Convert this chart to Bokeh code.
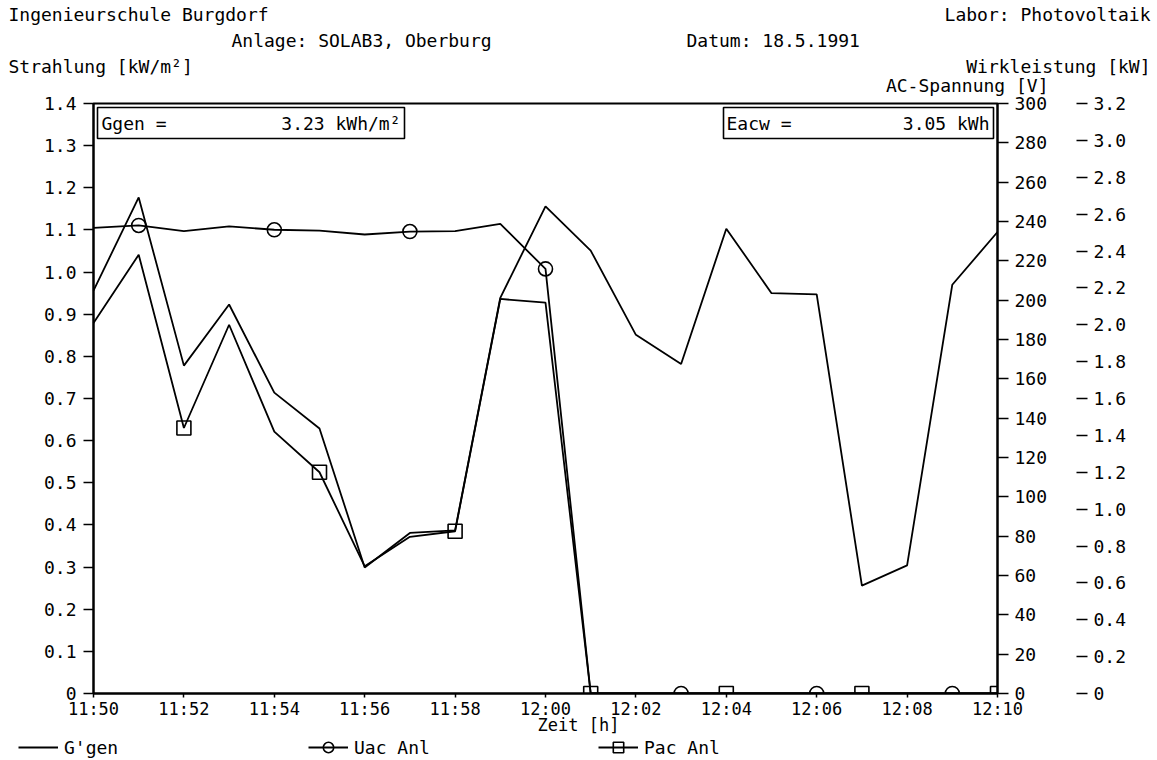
from bokeh.plotting import figure
from bokeh.models import (Range1d, LinearAxis, FixedTicker, Label, BoxAnnotation,
                          Legend, LegendItem)
from bokeh.embed import file_html
from bokeh.resources import INLINE

# ---------------- data ----------------
times = ["11:50", "11:51", "11:52", "11:53", "11:54", "11:55", "11:56", "11:57",
         "11:58", "11:59", "12:00", "12:01", "12:02", "12:03", "12:04", "12:05",
         "12:06", "12:07", "12:08", "12:09", "12:10"]
g_gen = [0.956, 1.177, 0.778, 0.923, 0.714, 0.629, 0.299, 0.381, 0.387, 0.939,
         1.156, 1.051, 0.851, 0.782, 1.103, 0.950, 0.947, 0.256, 0.304, 0.970, 1.095]
u_ac = [236.8, 238.0, 235.1, 237.5, 235.8, 235.4, 233.4, 234.9, 235.1, 238.8,
        215.9, 0, 0, 0, 0, 0, 0, 0, 0, 0, 0]
p_ac = [2.01, 2.38, 1.44, 2.00, 1.42, 1.20, 0.69, 0.85, 0.88, 2.14,
        2.12, 0, 0, 0, 0, 0, 0, 0, 0, 0, 0]

x_ticks = [0, 2, 4, 6, 8, 10, 12, 14, 16, 18, 20]
x_labels = ["11:50", "11:52", "11:54", "11:56", "11:58", "12:00", "12:02",
            "12:04", "12:06", "12:08", "12:10"]
g_ticks = [0, 0.1, 0.2, 0.3, 0.4, 0.5, 0.6, 0.7, 0.8, 0.9, 1.0, 1.1, 1.2, 1.3, 1.4]
g_labels = ["0", "0.1", "0.2", "0.3", "0.4", "0.5", "0.6", "0.7", "0.8", "0.9",
            "1.0", "1.1", "1.2", "1.3", "1.4"]
u_ticks = [0, 20, 40, 60, 80, 100, 120, 140, 160, 180, 200, 220, 240, 260, 280, 300]
u_labels = ["0", "20", "40", "60", "80", "100", "120", "140", "160", "180", "200",
            "220", "240", "260", "280", "300"]
p_ticks = [0, 0.2, 0.4, 0.6, 0.8, 1.0, 1.2, 1.4, 1.6, 1.8, 2.0, 2.2, 2.4, 2.6,
           2.8, 3.0, 3.2]
p_labels = ["0", "0.2", "0.4", "0.6", "0.8", "1.0", "1.2", "1.4", "1.6", "1.8",
            "2.0", "2.2", "2.4", "2.6", "2.8", "3.0", "3.2"]

# minutes after 11:50
def to_min(t):
    h, m = t.split(":")
    return (int(h) * 60 + int(m)) - (11 * 60 + 50)

xs = [to_min(t) for t in times]
X_MAX = xs[-1]
G_MAX, U_MAX, P_MAX = g_ticks[-1], u_ticks[-1], p_ticks[-1]

FONT = "DejaVu Sans Mono"
FS = "18px"

# ---------------- geometry (page pixels) ----------------
W, H = 1157, 760
FL, FR, FT, FB = 93, 997, 103, 693      # plot-area edges
PX_MIN = (FR - FL) / X_MAX              # pixels per minute
PX_H = FB - FT                          # plot-area height

def yrange(vmax):
    per = PX_H / vmax
    return Range1d((FB - H) / per, FB / per)

p = figure(width=W, height=H, output_backend="svg", toolbar_location=None,
           x_range=Range1d(-FL / PX_MIN, (W - FL) / PX_MIN), y_range=yrange(G_MAX),
           x_axis_location=None, y_axis_location=None, min_border=0)
p.extra_y_ranges = {"uac": yrange(U_MAX), "pac": yrange(P_MAX)}
p.grid.visible = False
p.outline_line_color = None
p.background_fill_color = "white"
p.border_fill_color = "white"

def style_axis(ax, size=FS):
    ax.major_label_text_font = FONT
    ax.major_label_text_font_size = size
    ax.major_label_text_color = "black"
    ax.axis_line_color = "black"
    ax.axis_line_width = 2
    ax.major_tick_line_color = "black"
    ax.major_tick_line_width = 1.5
    ax.minor_tick_line_color = None
    ax.major_tick_in = 0

def at(cx, cy):
    """page pixel position -> (minute, kW/m2) data coordinates"""
    return (cx - FL) / PX_MIN, (FB - cy) * G_MAX / PX_H

# ---------------- series ----------------
LW = 1.8
r_g = p.line(xs, g_gen, line_color="black", line_width=LW)
r_u = p.line(xs, u_ac, line_color="black", line_width=LW, y_range_name="uac")
r_p = p.line(xs, p_ac, line_color="black", line_width=LW, y_range_name="pac")
m_u = p.scatter(xs[1::3], u_ac[1::3], marker="circle", size=14, fill_color=None,
                line_color="black", line_width=1.6, y_range_name="uac")
m_p = p.scatter(xs[2::3], p_ac[2::3], marker="square", size=14, fill_color=None,
                line_color="black", line_width=1.6, y_range_name="pac")

# white masks = clip the markers at the plot-area edges (below zero, right of 12:10)
xr, yr = p.x_range, p.y_range
p.quad(left=[xr.start], right=[xr.end], bottom=[yr.start], top=[0],
       fill_color="white", line_color=None)
p.quad(left=[X_MAX], right=[xr.end], bottom=[0], top=[yr.end],
       fill_color="white", line_color=None)

# ---------------- axes at fixed positions ----------------
xa = LinearAxis(fixed_location=0, bounds=(0, X_MAX), ticker=FixedTicker(ticks=x_ticks),
                major_label_overrides=dict(zip(x_ticks, x_labels)))
style_axis(xa, "17px")
xa.major_tick_out = 4
xa.major_label_standoff = 1
p.add_layout(xa, "below")

ya = LinearAxis(fixed_location=0, bounds=(0, G_MAX), ticker=FixedTicker(ticks=g_ticks),
                major_label_overrides=dict(zip(g_ticks, g_labels)))
style_axis(ya)
ya.major_tick_out = 10
ya.major_label_standoff = 7
p.add_layout(ya, "left")

ua = LinearAxis(y_range_name="uac", fixed_location=X_MAX, bounds=(0, U_MAX),
                ticker=FixedTicker(ticks=u_ticks),
                major_label_overrides=dict(zip(u_ticks, u_labels)))
style_axis(ua)
ua.major_tick_out = 11
ua.major_label_standoff = 6
p.add_layout(ua, "right")

pa = LinearAxis(y_range_name="pac", fixed_location=at(1076, 0)[0], bounds=(0, P_MAX),
                ticker=FixedTicker(ticks=p_ticks),
                major_label_overrides=dict(zip(p_ticks, p_labels)))
style_axis(pa)
pa.axis_line_color = None
pa.major_tick_out = 11
pa.major_label_standoff = 6
p.add_layout(pa, "right")

# plot-area frame
p.add_layout(BoxAnnotation(left=0, right=X_MAX, bottom=0, top=G_MAX,
                           fill_color=None, fill_alpha=0, line_color="black",
                           line_alpha=1, line_width=2))

# ---------------- texts ----------------
def text(s, cx, cy, align="left", size=FS):
    x, y = at(cx, cy)
    p.add_layout(Label(x=x, y=y, text=s, text_align=align, text_baseline="middle",
                       text_font=FONT, text_font_size=size, text_color="black"))

text("Ingenieurschule Burgdorf", 8, 14)
text("Labor: Photovoltaik", 1150, 14, "right")
text("Anlage: SOLAB3, Oberburg", 231, 40)
text("Datum: 18.5.1991", 686, 40)
text("Strahlung [kW/m\u00b2]", 8, 66)
text("Wirkleistung [kW]", 1150, 66, "right")
text("AC-Spannung [V]", 1048, 85, "right")
text("Zeit [h]", 578, 724, "center", "17px")

def box(cx0, cy0, cx1, cy1):
    x0, y0 = at(cx0, cy0)
    x1, y1 = at(cx1, cy1)
    p.add_layout(BoxAnnotation(left=x0, right=x1, top=y0, bottom=y1,
                               fill_color=None, fill_alpha=0,
                               line_color="black", line_alpha=1, line_width=1.6))

box(97, 107, 404, 138)
box(723, 107, 993, 138)
text("Ggen =", 101, 123)
text("3.23 kWh/m\u00b2", 400, 123, "right")
text("Eacw =", 726, 123)
text("3.05 kWh", 989, 123, "right")

# ---------------- legend ----------------
legend = Legend(items=[
    LegendItem(label="G'gen", renderers=[r_g]),
    LegendItem(label="Uac Anl", renderers=[r_u, m_u]),
    LegendItem(label="Pac Anl", renderers=[r_p, m_p]),
], location=(18, 0), orientation="horizontal",
    border_line_color=None, background_fill_alpha=0, padding=0, margin=0,
    spacing=0, glyph_width=40, glyph_height=26, label_standoff=6,
    label_width=244, label_text_font=FONT, label_text_font_size=FS,
    label_text_color="black")
p.add_layout(legend)

open("out.html", "w").write(file_html(p, INLINE))
